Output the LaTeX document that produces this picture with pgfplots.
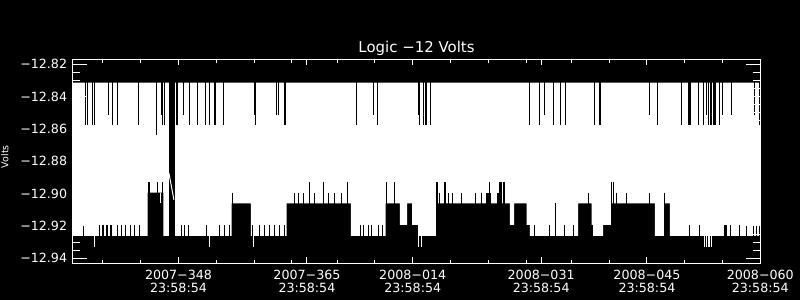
\documentclass[border=0pt]{standalone}
\usepackage{fontspec}
\setmainfont{DejaVu Sans}
\usepackage{pgfplots}
\pgfplotsset{compat=1.18}
\begin{document}
\begin{tikzpicture}[color=white]
\useasboundingbox (0,0) rectangle (800bp,300bp);
\fill[black] (0,0) rectangle (800bp,300bp);
\begin{axis}[
  at={(72.7bp,36.7bp)}, anchor=south west,
  scale only axis, width=687.6bp, height=204bp,
  xmin=334, xmax=425, ymin=-12.9431, ymax=-12.8169,
  axis on top, tick align=inside, tick pos=both,
  axis line style={white, line width=1bp},
  xtick style={white, line width=1bp, /pgfplots/major tick length=6bp, /pgfplots/minor tick length=3.3bp},
  ytick style={white, line width=1bp, /pgfplots/major tick length=14bp, /pgfplots/minor tick length=7bp},
  xtick={348,365,379,396,410,425},
  xticklabels={{2007−348\\23:58:54},{2007−365\\23:58:54},{2008−014\\23:58:54},{2008−031\\23:58:54},{2008−045\\23:58:54},{2008−060\\23:58:54}},
  minor xtick={338,343,353,358,363,369,374,384,389,394,400,405,415,420},
  ytick={-12.94,-12.92,-12.90,-12.88,-12.86,-12.84,-12.82},
  yticklabels={−12.94,−12.92,−12.90,−12.88,−12.86,−12.84,−12.82},
  minor y tick num=3,
  xticklabel style={white, align=center, font=\fontsize{12.7}{13.4}\selectfont, inner sep=0pt, yshift=-6.4bp},
  yticklabel style={white, font=\fontsize{12.7}{13.4}\selectfont, inner sep=0pt, xshift=-5.4bp},
  every axis title/.style={at={(0.5,1)}, anchor=base, yshift=6.6bp, font=\fontsize{15}{18}\selectfont, white},
  title={Logic −12 Volts},
  every axis y label/.style={at={(axis description cs:-0.0937,0.5225)}, rotate=90, anchor=base, font=\fontsize{9.5}{11}\selectfont, white},
  ylabel={Volts},
  unbounded coords=jump,
]
% white band: data range between upper level and lower envelope
\addplot[fill=white, draw=none] coordinates {
(334,-12.8314) (425,-12.8314) (425,-12.9262) (413.03,-12.9262) (413.03,-12.9060) (412.27,-12.9060) (412.27,-12.9262) (411.04,-12.9262) (411.04,-12.9060) (405.22,-12.9060) (405.22,-12.9194) (404.20,-12.9194) (404.20,-12.9262) (402.88,-12.9262) (402.88,-12.9194) (402.67,-12.9194) (402.67,-12.9060) (400.90,-12.9060) (400.90,-12.9262) (394.51,-12.9262) (394.51,-12.9194) (394.07,-12.9194) (394.07,-12.9060) (392.43,-12.9060) (392.43,-12.9194) (391.86,-12.9194) (391.86,-12.9060) (382.16,-12.9060) (382.16,-12.9262) (379.73,-12.9262) (379.73,-12.9194) (378.93,-12.9194) (378.93,-12.9060) (378.27,-12.9060) (378.27,-12.9194) (377.31,-12.9194) (377.31,-12.9060) (375.41,-12.9060) (375.41,-12.9262) (370.82,-12.9262) (370.82,-12.9060) (362.31,-12.9060) (362.31,-12.9262) (357.59,-12.9262) (357.59,-12.9060) (355.04,-12.9060) (355.04,-12.9262) (345.99,-12.9262) (345.99,-12.8994) (343.92,-12.8994) (343.92,-12.9262) (334,-12.9262)
} -- cycle;
% white spikes below the lower envelope
\addplot[white, line width=1bp] coordinates {
(336.86,-12.9262) (336.86,-12.9328) (336.86,nan)
(345.62,-12.8994) (345.62,-12.9060) (345.62,nan)
(352.17,-12.9262) (352.17,-12.9328) (352.17,nan)
(357.90,-12.9262) (357.90,-12.9328) (357.90,nan)
(362.09,-12.9262) (362.09,-12.9328) (362.09,nan)
(379.82,-12.9262) (379.82,-12.9328) (379.82,nan)
(380.22,-12.9262) (380.22,-12.9328) (380.22,nan)
(415.67,-12.9262) (415.67,-12.9328) (415.67,nan)
(417.66,-12.9262) (417.66,-12.9328) (417.66,nan)
(417.89,-12.9262) (417.89,-12.9328) (417.89,nan)
(418.10,-12.9262) (418.10,-12.9328) (418.10,nan)
(418.32,-12.9262) (418.32,-12.9328) (418.32,nan)
(418.55,-12.9262) (418.55,-12.9328) (418.55,nan)
};
% data gap
\addplot[fill=black, draw=none] coordinates {(346.74,-12.93) (347.54,-12.93) (347.54,-12.82) (346.74,-12.82)} -- cycle;
% gaps under the upper level
\addplot[black, line width=1bp] coordinates {
(335.69,-12.82) (335.69,-12.8577) (335.69,nan)
(335.93,-12.82) (335.93,-12.8577) (335.93,nan)
(336.65,-12.82) (336.65,-12.8577) (336.65,nan)
(336.85,-12.82) (336.85,-12.8577) (336.85,nan)
(338.71,-12.82) (338.71,-12.8511) (338.71,nan)
(339.31,-12.82) (339.31,-12.8577) (339.31,nan)
(339.90,-12.82) (339.90,-12.8577) (339.90,nan)
(342.75,-12.82) (342.75,-12.8577) (342.75,nan)
(345.15,-12.82) (345.15,-12.8640) (345.15,nan)
(345.78,-12.82) (345.78,-12.8511) (345.78,nan)
(345.91,-12.82) (345.91,-12.8577) (345.91,nan)
(346.17,-12.82) (346.17,-12.8577) (346.17,nan)
(347.73,-12.82) (347.73,-12.8577) (347.73,nan)
(347.86,-12.82) (347.86,-12.8577) (347.86,nan)
(348.63,-12.82) (348.63,-12.8511) (348.63,nan)
(349.43,-12.82) (349.43,-12.8577) (349.43,nan)
(350.54,-12.82) (350.54,-12.8577) (350.54,nan)
(351.60,-12.82) (351.60,-12.8577) (351.60,nan)
(352.07,-12.82) (352.07,-12.8577) (352.07,nan)
(352.76,-12.82) (352.76,-12.8577) (352.76,nan)
(352.96,-12.82) (352.96,-12.8577) (352.96,nan)
(354.02,-12.82) (354.02,-12.8577) (354.02,nan)
(358.03,-12.82) (358.03,-12.8511) (358.03,nan)
(358.21,-12.82) (358.21,-12.8577) (358.21,nan)
(360.99,-12.82) (360.99,-12.8511) (360.99,nan)
(361.20,-12.82) (361.20,-12.8511) (361.20,nan)
(362.00,-12.82) (362.00,-12.8577) (362.00,nan)
(362.18,-12.82) (362.18,-12.8577) (362.18,nan)
(371.58,-12.82) (371.58,-12.8577) (371.58,nan)
(373.77,-12.82) (373.77,-12.8511) (373.77,nan)
(374.30,-12.82) (374.30,-12.8577) (374.30,nan)
(379.73,-12.82) (379.73,-12.8511) (379.73,nan)
(379.86,-12.82) (379.86,-12.8577) (379.86,nan)
(380.39,-12.82) (380.39,-12.8577) (380.39,nan)
(380.71,-12.82) (380.71,-12.8577) (380.71,nan)
(380.84,-12.82) (380.84,-12.8577) (380.84,nan)
(381.37,-12.82) (381.37,-12.8577) (381.37,nan)
(394.51,-12.82) (394.51,-12.8577) (394.51,nan)
(395.74,-12.82) (395.74,-12.8577) (395.74,nan)
(396.40,-12.82) (396.40,-12.8511) (396.40,nan)
(397.59,-12.82) (397.59,-12.8577) (397.59,nan)
(398.57,-12.82) (398.57,-12.8577) (398.57,nan)
(399.27,-12.82) (399.27,-12.8577) (399.27,nan)
(403.01,-12.82) (403.01,-12.8577) (403.01,nan)
(403.67,-12.82) (403.67,-12.8577) (403.67,nan)
(403.86,-12.82) (403.86,-12.8577) (403.86,nan)
(410.38,-12.82) (410.38,-12.8511) (410.38,nan)
(411.35,-12.82) (411.35,-12.8577) (411.35,nan)
(414.52,-12.82) (414.52,-12.8577) (414.52,nan)
(415.45,-12.82) (415.45,-12.8577) (415.45,nan)
(415.61,-12.82) (415.61,-12.8577) (415.61,nan)
(415.77,-12.82) (415.77,-12.8577) (415.77,nan)
(416.77,-12.82) (416.77,-12.8577) (416.77,nan)
(417.43,-12.82) (417.43,-12.8577) (417.43,nan)
(417.88,-12.82) (417.88,-12.8511) (417.88,nan)
(418.19,-12.82) (418.19,-12.8577) (418.19,nan)
(418.36,-12.82) (418.36,-12.8577) (418.36,nan)
(418.54,-12.82) (418.54,-12.8577) (418.54,nan)
(418.85,-12.82) (418.85,-12.8577) (418.85,nan)
(418.98,-12.82) (418.98,-12.8577) (418.98,nan)
(419.11,-12.82) (419.11,-12.8577) (419.11,nan)
(419.55,-12.82) (419.55,-12.8577) (419.55,nan)
(419.95,-12.82) (419.95,-12.8511) (419.95,nan)
(421.19,-12.82) (421.19,-12.8511) (421.19,nan)
(424.18,-12.82) (424.18,-12.8511) (424.18,nan)
(424.85,-12.82) (424.85,-12.8577) (424.85,nan)
};
% spikes above the lower envelope
\addplot[black, line width=1bp] coordinates {
(335.40,-12.95) (335.40,-12.9194) (335.40,nan)
(337.61,-12.95) (337.61,-12.9194) (337.61,nan)
(337.88,-12.95) (337.88,-12.9194) (337.88,nan)
(338.14,-12.95) (338.14,-12.9194) (338.14,nan)
(338.41,-12.95) (338.41,-12.9194) (338.41,nan)
(338.67,-12.95) (338.67,-12.9194) (338.67,nan)
(338.94,-12.95) (338.94,-12.9194) (338.94,nan)
(339.20,-12.95) (339.20,-12.9194) (339.20,nan)
(339.90,-12.95) (339.90,-12.9194) (339.90,nan)
(340.48,-12.95) (340.48,-12.9194) (340.48,nan)
(341.05,-12.95) (341.05,-12.9194) (341.05,nan)
(341.67,-12.95) (341.67,-12.9194) (341.67,nan)
(342.24,-12.95) (342.24,-12.9194) (342.24,nan)
(342.90,-12.95) (342.90,-12.9194) (342.90,nan)
(344.03,-12.95) (344.03,-12.8930) (344.03,nan)
(344.16,-12.95) (344.16,-12.8930) (344.16,nan)
(345.22,-12.95) (345.22,-12.8930) (345.22,nan)
(345.88,-12.95) (345.88,-12.8930) (345.88,nan)
(348.42,-12.95) (348.42,-12.9194) (348.42,nan)
(348.77,-12.95) (348.77,-12.9194) (348.77,nan)
(349.30,-12.95) (349.30,-12.9194) (349.30,nan)
(351.73,-12.95) (351.73,-12.9194) (351.73,nan)
(353.40,-12.95) (353.40,-12.9194) (353.40,nan)
(354.15,-12.95) (354.15,-12.9194) (354.15,nan)
(354.81,-12.95) (354.81,-12.9194) (354.81,nan)
(355.14,-12.95) (355.14,-12.8994) (355.14,nan)
(357.78,-12.95) (357.78,-12.9194) (357.78,nan)
(358.78,-12.95) (358.78,-12.9194) (358.78,nan)
(359.44,-12.95) (359.44,-12.9194) (359.44,nan)
(360.11,-12.95) (360.11,-12.9194) (360.11,nan)
(360.77,-12.95) (360.77,-12.9194) (360.77,nan)
(361.43,-12.95) (361.43,-12.9194) (361.43,nan)
(362.00,-12.95) (362.00,-12.9194) (362.00,nan)
(363.32,-12.95) (363.32,-12.8994) (363.32,nan)
(363.94,-12.95) (363.94,-12.8994) (363.94,nan)
(364.51,-12.95) (364.51,-12.8994) (364.51,nan)
(365.31,-12.95) (365.31,-12.8930) (365.31,nan)
(366.06,-12.95) (366.06,-12.8994) (366.06,nan)
(367.16,-12.95) (367.16,-12.8930) (367.16,nan)
(367.91,-12.95) (367.91,-12.8994) (367.91,nan)
(368.71,-12.95) (368.71,-12.8994) (368.71,nan)
(369.59,-12.95) (369.59,-12.8994) (369.59,nan)
(370.39,-12.95) (370.39,-12.8930) (370.39,nan)
(372.15,-12.95) (372.15,-12.9194) (372.15,nan)
(372.45,-12.95) (372.45,-12.9194) (372.45,nan)
(373.11,-12.95) (373.11,-12.9194) (373.11,nan)
(373.56,-12.95) (373.56,-12.9194) (373.56,nan)
(374.43,-12.95) (374.43,-12.9194) (374.43,nan)
(375.02,-12.95) (375.02,-12.9194) (375.02,nan)
(375.50,-12.95) (375.50,-12.8930) (375.50,nan)
(376.64,-12.95) (376.64,-12.8930) (376.64,nan)
(382.20,-12.95) (382.20,-12.8930) (382.20,nan)
(382.30,-12.95) (382.30,-12.8930) (382.30,nan)
(382.51,-12.95) (382.51,-12.8994) (382.51,nan)
(383.26,-12.95) (383.26,-12.8930) (383.26,nan)
(383.40,-12.95) (383.40,-12.8930) (383.40,nan)
(383.70,-12.95) (383.70,-12.8994) (383.70,nan)
(384.28,-12.95) (384.28,-12.8994) (384.28,nan)
(385.47,-12.95) (385.47,-12.8994) (385.47,nan)
(387.36,-12.95) (387.36,-12.8994) (387.36,nan)
(388.12,-12.95) (388.12,-12.8994) (388.12,nan)
(388.70,-12.95) (388.70,-12.8994) (388.70,nan)
(388.85,-12.95) (388.85,-12.8994) (388.85,nan)
(389.00,-12.95) (389.00,-12.8994) (389.00,nan)
(389.15,-12.95) (389.15,-12.8930) (389.15,nan)
(389.30,-12.95) (389.30,-12.8994) (389.30,nan)
(390.18,-12.95) (390.18,-12.8994) (390.18,nan)
(390.33,-12.95) (390.33,-12.8994) (390.33,nan)
(390.50,-12.95) (390.50,-12.8930) (390.50,nan)
(390.65,-12.95) (390.65,-12.8930) (390.65,nan)
(390.80,-12.95) (390.80,-12.8930) (390.80,nan)
(390.95,-12.95) (390.95,-12.8930) (390.95,nan)
(391.10,-12.95) (391.10,-12.8930) (391.10,nan)
(395.07,-12.95) (395.07,-12.9194) (395.07,nan)
(397.15,-12.95) (397.15,-12.9194) (397.15,nan)
(397.95,-12.95) (397.95,-12.9060) (397.95,nan)
(399.04,-12.95) (399.04,-12.9194) (399.04,nan)
(400.23,-12.95) (400.23,-12.9194) (400.23,nan)
(402.22,-12.95) (402.22,-12.8994) (402.22,nan)
(405.32,-12.95) (405.32,-12.8930) (405.32,nan)
(405.53,-12.95) (405.53,-12.8930) (405.53,nan)
(405.98,-12.95) (405.98,-12.8994) (405.98,nan)
(407.30,-12.95) (407.30,-12.8994) (407.30,nan)
(410.29,-12.95) (410.29,-12.8994) (410.29,nan)
(412.28,-12.95) (412.28,-12.8994) (412.28,nan)
(415.58,-12.95) (415.58,-12.9194) (415.58,nan)
(416.91,-12.95) (416.91,-12.9194) (416.91,nan)
(420.20,-12.95) (420.20,-12.9194) (420.20,nan)
(420.35,-12.95) (420.35,-12.9194) (420.35,nan)
(420.50,-12.95) (420.50,-12.9194) (420.50,nan)
(421.10,-12.95) (421.10,-12.9194) (421.10,nan)
(422.20,-12.95) (422.20,-12.9194) (422.20,nan)
(423.18,-12.95) (423.18,-12.9194) (423.18,nan)
(424.14,-12.95) (424.14,-12.9194) (424.14,nan)
(424.50,-12.95) (424.50,-12.9194) (424.50,nan)
(424.84,-12.95) (424.84,-12.9194) (424.84,nan)
};
% line joining the values across the gap
\addplot[white, line width=1bp] coordinates {(346.74,-12.8874) (347.40,-12.9039)};
\end{axis}
\end{tikzpicture}
\end{document}
